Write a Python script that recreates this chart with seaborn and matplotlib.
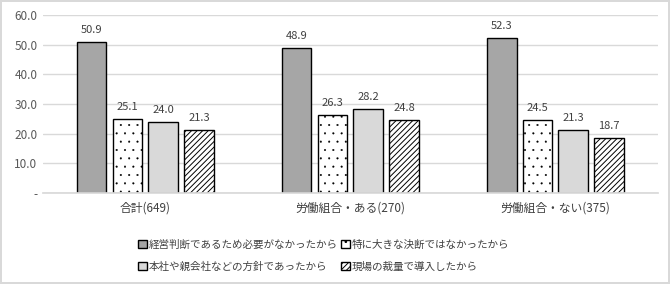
import matplotlib
matplotlib.use("Agg")
import matplotlib.pyplot as plt
import seaborn as sns
import pandas as pd
import numpy as np

categories = ["合計(649)", "労働組合・ある(270)", "労働組合・ない(375)"]
series_names = ["経営判断であるため必要がなかったから", "特に大きな決断ではなかったから",
                "本社や親会社などの方針であったから", "現場の裁量で導入したから"]
s1 = [50.9, 48.9, 52.3]
s2 = [25.1, 26.3, 24.5]
s3 = [24.0, 28.2, 21.3]
s4 = [21.3, 24.8, 18.7]
yticks = [0, 10, 20, 30, 40, 50, 60]
ytick_labels = ["-", "10.0", "20.0", "30.0", "40.0", "50.0", "60.0"]

sns.set_theme(style="white")
plt.rcParams['font.family'] = ['Noto Sans CJK JP', 'DejaVu Sans']
plt.rcParams['hatch.linewidth'] = 0.7

rows = []
for name, vals in zip(series_names, [s1, s2, s3, s4]):
    for c, v in zip(categories, vals):
        rows.append({"cat": c, "series": name, "val": v})
df = pd.DataFrame(rows)

fig = plt.figure(figsize=(6.7, 2.84), dpi=100)
fig.patch.set_edgecolor("#D9D9D9")
fig.patch.set_linewidth(1.5)
ax = fig.add_axes([0.064, 0.320, 0.918, 0.627])

colors = ["#A6A6A6", "#FFFFFF", "#D9D9D9", "#FFFFFF"]
hatches = [None, "..", None, "//////"]
hatch_lw = [0.7, 0.25, 0.7, 0.7]


def apply_hatch(p, h, lw):
    if h:
        p.set_hatch(h)
        try:
            p.set_hatch_linewidth(lw)
        except AttributeError:
            pass


sns.barplot(data=df, x="cat", y="val", hue="series", order=categories,
            hue_order=series_names, palette=colors, ax=ax, width=0.7,
            edgecolor="black", linewidth=1.0, saturation=1, gap=0.17)

for cont, h, lw in zip(ax.containers, hatches, hatch_lw):
    for p in cont.patches:
        apply_hatch(p, h, lw)
    ax.bar_label(cont, fmt="%.1f", padding=5, fontsize=8, color="#404040")

ax.set_ylim(0, 60)
ax.set_yticks(yticks)
ax.set_yticklabels(ytick_labels, fontsize=8.5, color="#595959")
ax.set_xlim(-0.5, 2.5)
ax.tick_params(axis='x', labelsize=8.5, colors="#404040", length=0, pad=6)
ax.tick_params(axis='y', length=0, pad=4)
ax.set_xlabel("")
ax.set_ylabel("")
ax.yaxis.grid(True, color="#D9D9D9", linewidth=1)
ax.set_axisbelow(True)
for s in ["top", "right", "left"]:
    ax.spines[s].set_visible(False)
ax.spines["bottom"].set_color("#D9D9D9")

handles, labels = ax.get_legend_handles_labels()
ax.get_legend().remove()
for h, hatch, lw in zip(handles, hatches, hatch_lw):
    apply_hatch(h, hatch, lw)
order = [0, 2, 1, 3]
fig.legend([handles[i] for i in order], [labels[i] for i in order],
           loc="center", bbox_to_anchor=(0.483, 0.1), ncol=2, frameon=False,
           fontsize=7.6, handlelength=0.85, handleheight=0.85, handletextpad=0.2,
           columnspacing=0.3, labelspacing=1.1, labelcolor="#404040")

fig.savefig("out.png", dpi=100)
